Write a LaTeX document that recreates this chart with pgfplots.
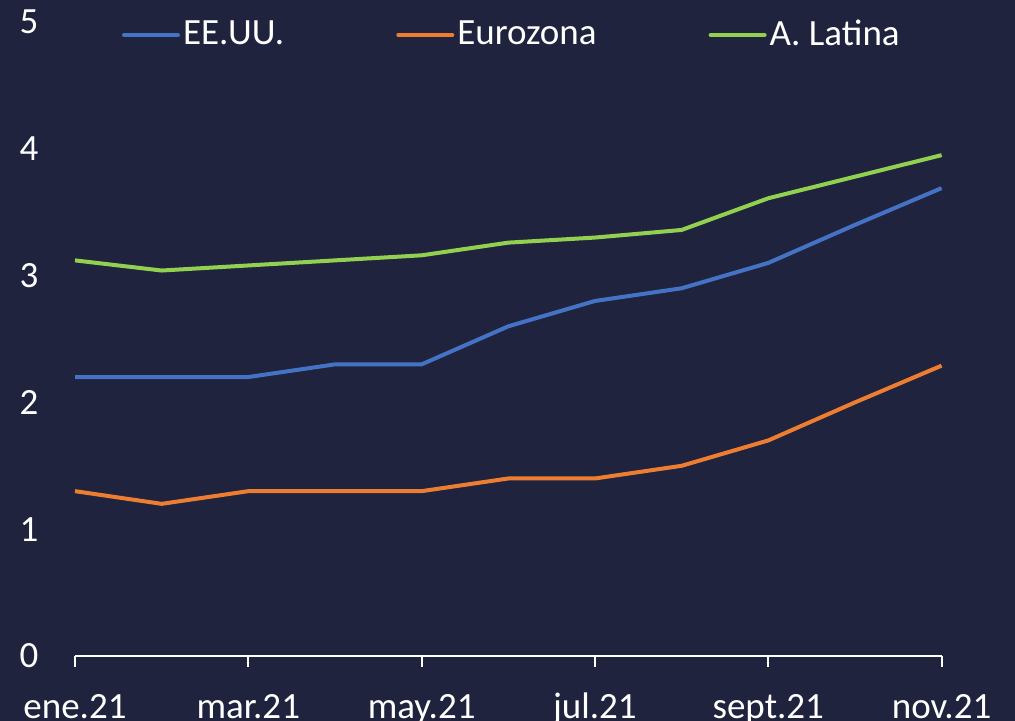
\documentclass[border=0pt]{standalone}
\usepackage{pgfplots}
\pgfplotsset{compat=1.18}
\usepackage{fontspec}
\setmainfont{Carlito}
\definecolor{bg}{RGB}{31,35,61}
\definecolor{cblue}{RGB}{68,114,196}
\definecolor{corange}{RGB}{237,125,49}
\definecolor{cgreen}{RGB}{146,208,80}
\begin{document}
\fontsize{18.5}{21}\selectfont
\begin{tikzpicture}
\fill[bg] (-37.5pt,-32.5pt) rectangle (470pt,328pt);
\path[use as bounding box] (-37.5pt,-32.5pt) rectangle (470pt,328pt);
\begin{axis}[
  at={(0,0)}, anchor=south west,
  scale only axis, width=433.3pt, height=317pt,
  xmin=0, xmax=10, ymin=0, ymax=5,
  axis x line*=bottom, axis y line*=left,
  x axis line style={white, line width=1pt, -},
  y axis line style={draw=none},
  xtick={0,2,4,6,8,10},
  xticklabels={ene.21,mar.21,may.21,jul.21,sept.21,nov.21},
  ytick={0,1,2,3,4,5},
  xtick style={white, line width=1pt},
  ytick style={draw=none},
  xtick align=outside, major tick length=5.5pt,
  tick label style={white, font=\fontsize{18.5}{21}\selectfont},
  xticklabel style={yshift=-7.5pt, text height=11.7pt, text depth=4pt},
  yticklabel style={xshift=-12pt},
  /pgf/number format/assume math mode=true,
  clip=false,
  legend columns=3,
  legend style={at={(0,1)}, anchor=west, xshift=23.5pt, yshift=-6.5pt,
    draw=none, fill=none, text=white, inner sep=0pt, outer sep=0pt,
    font=\fontsize{18.5}{21}\selectfont,
    nodes={inner xsep=1.5pt, inner ysep=2pt}},
  /tikz/every even column/.append style={column sep=54.5pt},
  legend image code/.code={\draw[#1, line cap=round] (0pt,0pt) -- (27pt,0pt);},
  every axis plot/.append style={line width=2pt, line join=round},
]
\addplot[cblue] coordinates {(0,2.2)(1,2.2)(2,2.2)(3,2.3)(4,2.3)(5,2.6)(6,2.8)(7,2.9)(8,3.1)(9,3.4)(10,3.69)};
\addlegendentry{EE.UU.}
\addplot[corange] coordinates {(0,1.3)(1,1.2)(2,1.3)(3,1.3)(4,1.3)(5,1.4)(6,1.4)(7,1.5)(8,1.7)(9,2.0)(10,2.29)};
\addlegendentry{Eurozona}
\addplot[cgreen] coordinates {(0,3.12)(1,3.04)(2,3.08)(3,3.12)(4,3.16)(5,3.26)(6,3.30)(7,3.36)(8,3.61)(9,3.78)(10,3.95)};
\addlegendentry{A. Latina}
\end{axis}
\end{tikzpicture}
\end{document}
